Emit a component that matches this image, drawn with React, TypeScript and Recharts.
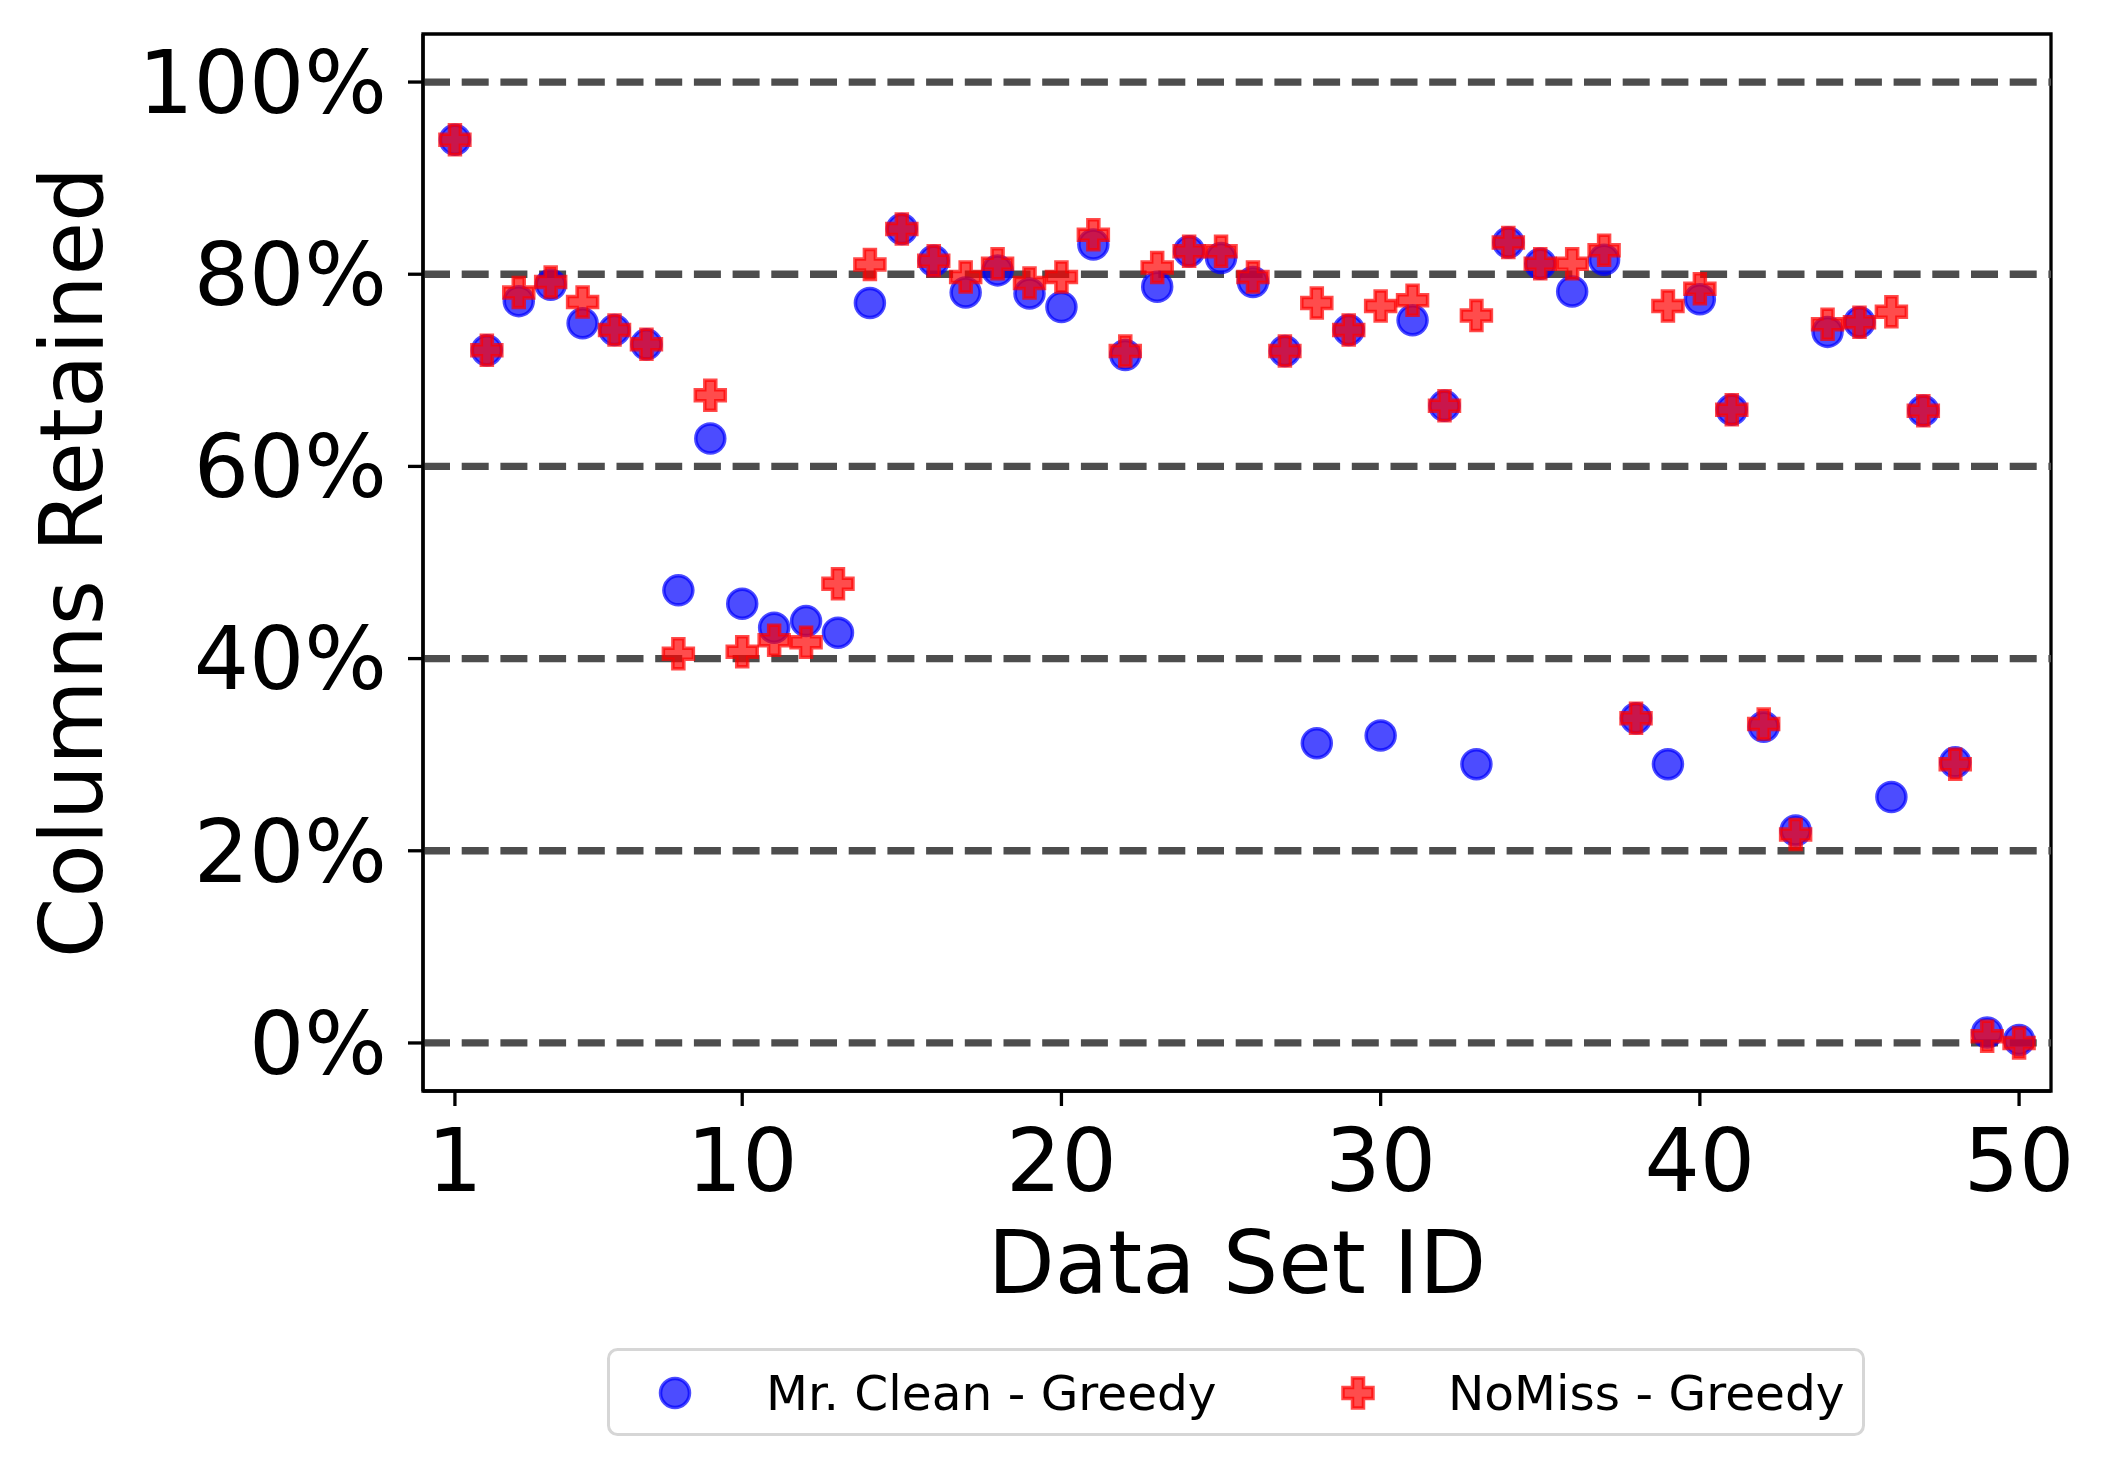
import React from "react";
import {
  ScatterChart,
  Scatter,
  XAxis,
  YAxis,
  ReferenceArea,
  ReferenceLine,
  Legend,
  Label,
} from "recharts";

const DATA_SET_IDS = [
  1, 2, 3, 4, 5, 6, 7, 8, 9, 10, 11, 12, 13, 14, 15, 16, 17, 18, 19, 20, 21, 22, 23, 24, 25,
  26, 27, 28, 29, 30, 31, 32, 33, 34, 35, 36, 37, 38, 39, 40, 41, 42, 43, 44, 45, 46, 47, 48, 49, 50,
];

const MR_CLEAN_GREEDY = [
  94.0, 72.1, 77.2, 78.9, 74.9, 74.2, 72.7, 47.1, 62.9, 45.7, 43.2, 43.9, 42.7, 77.0, 84.7, 81.4,
  78.1, 80.4, 78.0, 76.6, 83.1, 71.6, 78.7, 82.4, 81.7, 79.2, 72.0, 31.2, 74.2, 32.0, 75.2, 66.3,
  29.0, 83.3, 81.1, 78.2, 81.5, 33.8, 29.0, 77.4, 65.9, 32.9, 22.1, 74.0, 75.0, 25.6, 65.8, 29.2,
  1.1, 0.3,
];

const NOMISS_GREEDY = [
  94.0, 72.1, 78.1, 79.2, 77.1, 74.2, 72.7, 40.5, 67.4, 40.7, 41.9, 41.7, 47.8, 81.0, 84.7, 81.4,
  79.7, 81.1, 79.1, 79.7, 84.1, 72.0, 80.7, 82.4, 82.4, 79.7, 72.0, 77.0, 74.2, 76.7, 77.3, 66.3,
  75.7, 83.3, 81.1, 81.1, 82.5, 33.8, 76.7, 78.5, 65.9, 33.2, 21.7, 74.8, 75.0, 76.1, 65.8, 29.0,
  0.7, 0.0,
];

const X_TICKS = [1, 10, 20, 30, 40, 50];
const Y_TICKS = [0, 20, 40, 60, 80, 100];

const SERIES_NAMES = ["Mr. Clean - Greedy", "NoMiss - Greedy"];

const FONT = "'DejaVu Sans', sans-serif";

const mrCleanData = DATA_SET_IDS.map((id, i) => ({ id, value: MR_CLEAN_GREEDY[i] }));
const noMissData = DATA_SET_IDS.map((id, i) => ({ id, value: NOMISS_GREEDY[i] }));

const plusPath = (cx: number, cy: number, a: number, b: number) =>
  `M ${cx - b} ${cy - a} H ${cx + b} V ${cy - b} H ${cx + a} V ${cy + b} H ${cx + b} V ${cy + a} H ${cx - b} V ${cy + b} H ${cx - a} V ${cy - b} H ${cx - b} Z`;

const CircleMarker = ({ cx, cy }: any) => {
  if (cx == null || cy == null) return null;
  return (
    <circle
      cx={cx}
      cy={cy}
      r={14.5}
      fill="#0000ff"
      fillOpacity={0.7}
      stroke="#0000ff"
      strokeOpacity={0.7}
      strokeWidth={3.5}
    />
  );
};

const PlusMarker = ({ cx, cy }: any) => {
  if (cx == null || cy == null) return null;
  return (
    <path
      d={plusPath(cx, cy, 15, 5.5)}
      fill="#ff0000"
      fillOpacity={0.7}
      stroke="#ff0000"
      strokeOpacity={0.7}
      strokeWidth={3.5}
      strokeLinejoin="miter"
    />
  );
};

// matplotlib-style boxed legend
const renderLegend = () => (
  <svg width={1258} height={88} style={{ display: "block" }}>
    <rect x={1.5} y={1.5} width={1255} height={85} rx={9} fill="#fff" stroke="#d6d6d6" strokeWidth={3} />
    <CircleMarker cx={68} cy={45} />
    <text x={159} y={62} fontSize={48.6} fontFamily={FONT} fill="#000">
      {SERIES_NAMES[0]}
    </text>
    <PlusMarker cx={751} cy={45} />
    <text x={841} y={62} fontSize={48.6} fontFamily={FONT} fill="#000">
      {SERIES_NAMES[1]}
    </text>
  </svg>
);

const YLabel = ({ viewBox }: any) => {
  const cy = viewBox.y + viewBox.height / 2;
  const x = 102;
  return (
    <text
      x={x}
      y={cy}
      transform={`rotate(-90, ${x}, ${cy})`}
      textAnchor="middle"
      fontSize={87}
      fontFamily={FONT}
      fill="#000"
    >
      Columns Retained
    </text>
  );
};

const XLabel = ({ viewBox }: any) => {
  const cx = viewBox.x + viewBox.width / 2;
  return (
    <text x={cx} y={1293} textAnchor="middle" fontSize={87} fontFamily={FONT} fill="#000">
      Data Set ID
    </text>
  );
};

export default function App() {
  return (
    <div style={{ width: 2108, height: 1472, background: "#fff", fontFamily: FONT }}>
      <style>{"body{margin:0;background:#fff}"}</style>
      <ScatterChart width={2108} height={1472} margin={{ top: 34, right: 57, left: 0, bottom: 0 }}>
        <XAxis
          type="number"
          dataKey="id"
          domain={[0, 51]}
          ticks={X_TICKS}
          interval={0}
          allowDataOverflow
          height={381}
          tickSize={15}
          tickMargin={23}
          axisLine={{ stroke: "#000", strokeWidth: 3.3 }}
          tickLine={{ stroke: "#000", strokeWidth: 3.3 }}
          tick={{ fill: "#000", fontSize: 87, fontFamily: FONT }}
        >
          <Label content={XLabel} />
        </XAxis>
        <YAxis
          type="number"
          dataKey="value"
          domain={[-5, 105]}
          ticks={Y_TICKS}
          interval={0}
          allowDataOverflow
          width={423}
          tickSize={15}
          tickMargin={21}
          tickFormatter={(v) => `${v}%`}
          axisLine={{ stroke: "#000", strokeWidth: 3.3 }}
          tickLine={{ stroke: "#000", strokeWidth: 3.3 }}
          tick={{ fill: "#000", fontSize: 87, fontFamily: FONT }}
        >
          <Label content={YLabel} />
        </YAxis>
        {Y_TICKS.map((v) => (
          <ReferenceLine
            key={v}
            y={v}
            stroke="#4d4d4d"
            strokeWidth={7.3}
            strokeDasharray="27 11.7"
          />
        ))}
        <ReferenceArea
          x1={0}
          x2={51}
          y1={-5}
          y2={105}
          fill="none"
          fillOpacity={0}
          stroke="#000"
          strokeWidth={3.3}
          ifOverflow="visible"
        />
        <Scatter
          name={SERIES_NAMES[0]}
          data={mrCleanData}
          shape={CircleMarker}
          isAnimationActive={false}
        />
        <Scatter
          name={SERIES_NAMES[1]}
          data={noMissData}
          shape={PlusMarker}
          isAnimationActive={false}
        />
        <Legend
          layout="horizontal"
          verticalAlign="middle"
          align="center"
          wrapperStyle={{ left: 607, top: 1348, width: 1258, height: 88 }}
          content={renderLegend}
        />
      </ScatterChart>
    </div>
  );
}
